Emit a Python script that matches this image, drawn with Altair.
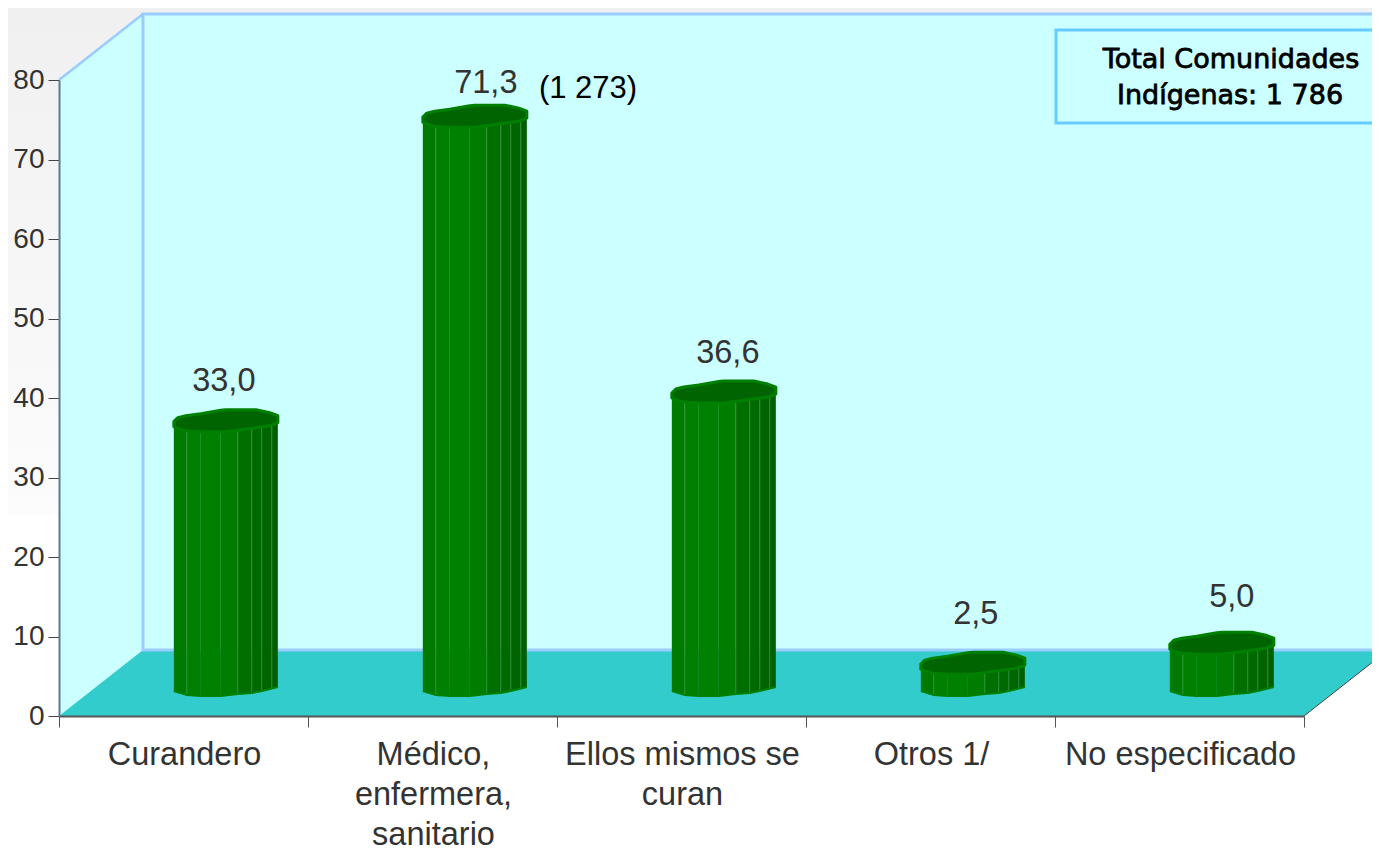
import json
import altair as alt
import pandas as pd

# ---- chart values ----
categories = ["Curandero", "Médico,|enfermera,|sanitario", "Ellos mismos se|curan", "Otros 1/", "No especificado"]
values = [33.0, 71.3, 36.6, 2.5, 5.0]
value_labels = ["33,0", "71,3", "36,6", "2,5", "5,0"]
y_ticks = [0, 10, 20, 30, 40, 50, 60, 70, 80]
x_ticks = [0, 1, 2, 3, 4, 5]
note_texts = ["Total Comunidades", "Indígenas: 1 786"]
count_label = "(1 273)"

# ---- geometry helpers (pixels per unit, set by the scales below) ----
PX_X = 249.0
PX_Y = 7.95
DEPTH_X = 84 / PX_X
DEPTH_Y = 66 / PX_Y
ux = lambda px: px / PX_X
uy = lambda px: px / PX_Y
BAR_X = 0.67
BAR_Y0 = 33 / PX_Y      # mid-depth lift of a value
BAR_BOTTOM = -2 / PX_Y  # foot of the cylinder relative to value zero

cap_dx = [-52, -48, -40, -25, -5, 0, 30, 44, 52]
cap_up = [1, -3, -5, -7, -10.5, -11, -11, -8, -5]
cap_lo = [6, 8, 10, 11, 11, 11, 7, 5, 2]
side_dx = [-52, -39, -25, -5, 12, 26, 36, 46, 52]
side_lo = [6, 10, 11, 11, 9, 8, 6, 3.5, 2]
side_fill = ["#007a00", "#007f00", "#008000", "#007d00", "#006f00", "#006900", "#006400", "#005f00"]
seam_dx = [-39, 12, 26, 36, 46]
label_dx = [-2, 11, 4, 3, 10]
label_dy = [40, 33, 39, 49, 46]

xs = alt.Scale(domain=[0, 5], nice=False, zero=False)
ys = alt.Scale(domain=[0, 80], nice=False, zero=False)
label_list = json.dumps(categories + [""], ensure_ascii=False)
x_axis = alt.Axis(
    values=x_ticks, labelExpr=f"split({label_list}[datum.value], '|')", labelAngle=0, labelAlign="center",
    labelOffset=125, labelFont="Liberation Sans", labelFontSize=32.5,
    labelColor="#333333", labelLineHeight=40, labelPadding=11, labelLimit=0, labelOverlap=False,
    labelBaseline="top", labelFlush=False, tickSize=11, tickColor="#555555", tickWidth=1,
    domainColor="#555555", domainWidth=2, grid=False, zindex=1, title=None)
y_axis = alt.Axis(
    values=y_ticks, labelFont="Liberation Sans", labelFontSize=28, labelColor="#333333", labelPadding=4,
    tickSize=11, tickColor="#444444", tickWidth=1, domainColor="#5b7a96", domainWidth=2,
    grid=False, zindex=1, title=None)
X = lambda f: alt.X(f + ":Q", scale=xs, axis=x_axis)
Y = lambda f: alt.Y(f + ":Q", scale=ys, axis=y_axis)

# ---- backdrop ----
bg = alt.Chart(pd.DataFrame([{"x": ux(-51), "x2": ux(1321), "y": uy(708), "y2": uy(201)}])).mark_rect(
    color=alt.Gradient(gradient="linear", x1=0, x2=0, y1=0, y2=1,
                       stops=[alt.GradientStop(offset=0, color="#f0f0f0"),
                              alt.GradientStop(offset=1, color="#fcfcfc")])
).encode(x=X("x"), x2="x2", y=Y("y"), y2="y2")

side = alt.Chart(pd.DataFrame({"x": [0, DEPTH_X], "y": [80, 80 + DEPTH_Y], "y2": [0, DEPTH_Y]})).mark_area(
    color="#ccffff").encode(x=X("x"), y=Y("y"), y2="y2")

back = alt.Chart(pd.DataFrame([{"x": DEPTH_X, "x2": 5 + DEPTH_X, "y": 80 + DEPTH_Y, "y2": DEPTH_Y}])).mark_rect(
    fill="#ccffff", stroke="#99ccff", strokeWidth=3).encode(x=X("x"), x2="x2", y=Y("y"), y2="y2")

floor = alt.Chart(pd.DataFrame({"x": [0, DEPTH_X, 5, 5 + DEPTH_X],
                                "y": [0, DEPTH_Y, DEPTH_Y, DEPTH_Y],
                                "y2": [0, 0, 0, DEPTH_Y]})).mark_area(color="#33cccc").encode(
    x=X("x"), y=Y("y"), y2="y2")

floor_edge = alt.Chart(pd.DataFrame({"x": [5, 5 + DEPTH_X], "y": [0, DEPTH_Y]})).mark_line(
    color="#444444", strokeWidth=1).encode(x=X("x"), y=Y("y"))

wall_edge = alt.Chart(pd.DataFrame({"x": [0, DEPTH_X], "y": [80, 80 + DEPTH_Y]})).mark_line(
    color="#99ccff", strokeWidth=2.5).encode(x=X("x"), y=Y("y"))

# ---- note box ----
box = alt.Chart(pd.DataFrame([{"x": ux(997), "x2": ux(1400), "y": uy(686), "y2": uy(593)}])).mark_rect(
    fill="#ccffff", stroke="#66ccff", strokeWidth=3).encode(x=X("x"), x2="x2", y=Y("y"), y2="y2")

note = alt.Chart(pd.DataFrame({"t": note_texts, "x": [ux(1172), ux(1171)], "y": [uy(656), uy(620)]})).mark_text(
    font="DejaVu Sans", fontSize=27, color="#000000", stroke="#000000", strokeWidth=0.8,
    baseline="middle", align="center"
).encode(x=X("x"), y=Y("y"), text="t:N")

# ---- cylinders ----
body_rows, seam_rows, rim_rows, cap_rows = [], [], [], []
for i, v in enumerate(values):
    cx = i + BAR_X
    top = v + BAR_Y0
    for k in range(len(side_fill)):
        for j in (k, k + 1):
            body_rows.append({"x": cx + ux(side_dx[j]),
                              "y": top - uy(side_lo[j]),
                              "y2": BAR_Y0 + BAR_BOTTOM - uy(side_lo[j]),
                              "f": f"{i}-{k}", "c": side_fill[k]})
    for dx in seam_dx:
        lo = side_lo[side_dx.index(dx)]
        seam_rows.append({"x": cx + ux(dx), "y": top - uy(lo), "y2": BAR_Y0 + BAR_BOTTOM - uy(lo)})
    for dx, lo in zip(side_dx, side_lo):
        rim_rows.append({"x": cx + ux(dx), "y": BAR_Y0 + BAR_BOTTOM - uy(lo), "b": i})
    for dx, up, lo in zip(cap_dx, cap_up, cap_lo):
        cap_rows.append({"x": cx + ux(dx), "y": top - uy(up), "y2": top - uy(lo), "b": i})

body = alt.Chart(pd.DataFrame(body_rows)).mark_area().encode(
    x=X("x"), y=Y("y"), y2="y2", detail="f:N", color=alt.Color("c:N", scale=None))
seams = alt.Chart(pd.DataFrame(seam_rows)).mark_rule(color="#4aa04a", strokeWidth=1, opacity=0.6).encode(
    x=X("x"), y=Y("y"), y2="y2")
rim = alt.Chart(pd.DataFrame(rim_rows)).mark_line(color="#008000", strokeWidth=2).encode(
    x=X("x"), y=Y("y"), detail="b:N")
cap = alt.Chart(pd.DataFrame(cap_rows)).mark_area(
    fill="#006400", stroke="#008000", strokeWidth=3, strokeJoin="round").encode(
    x=X("x"), y=Y("y"), y2="y2", detail="b:N")

# ---- value labels ----
labels = alt.Chart(pd.DataFrame({
    "t": value_labels,
    "x": [i + BAR_X + ux(d) for i, d in enumerate(label_dx)],
    "y": [v + BAR_Y0 + uy(d) for v, d in zip(values, label_dy)],
})).mark_text(font="Liberation Sans", fontSize=32.5, color="#333333", baseline="middle", align="center").encode(
    x=X("x"), y=Y("y"), text="t:N")

count = alt.Chart(pd.DataFrame({"t": [count_label], "x": [ux(529)], "y": [uy(627)]})).mark_text(
    font="Liberation Sans", fontSize=31, color="#000000", baseline="middle", align="center").encode(
    x=X("x"), y=Y("y"), text="t:N")

chart = alt.layer(bg, side, floor, back, floor_edge, wall_edge, box, note, body, seams, rim, cap,
                  labels, count).properties(
    width=1245, height=636,
    padding={"left": 51, "top": 72, "right": 68, "bottom": 134},
    autosize=alt.AutoSizeParams(type="none"),
    background="#ffffff",
).configure_view(stroke=None)

chart.save("out.html", embed_options={"renderer": "svg", "actions": False})
